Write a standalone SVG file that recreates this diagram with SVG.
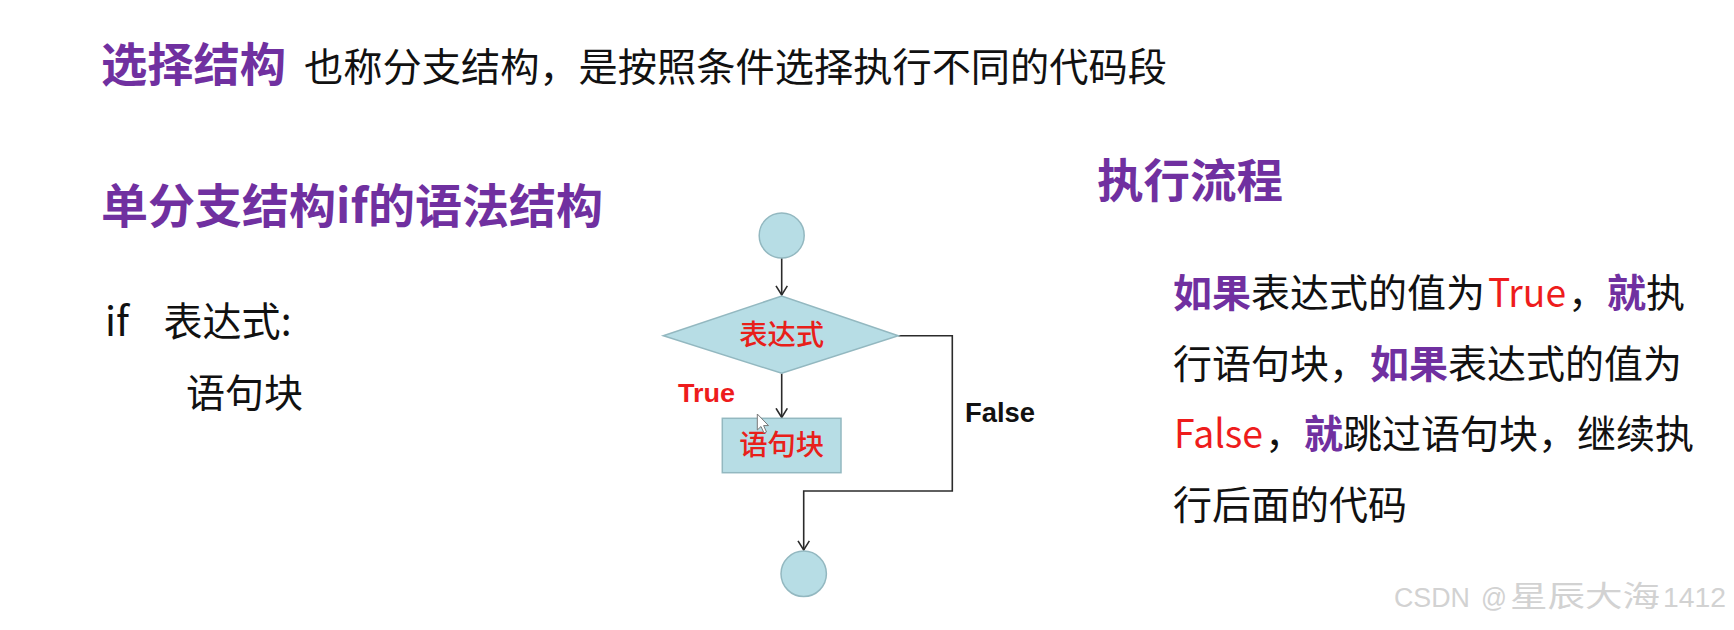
<svg xmlns="http://www.w3.org/2000/svg" width="1734" height="630" viewBox="0 0 1734 630">
<defs>
<style>
.hd{font-family:"Noto Sans CJK SC","Noto Sans",sans-serif;font-weight:700;fill:#7030a0;}
.tx{font-family:"Noto Sans CJK SC","Noto Sans",sans-serif;fill:#111;}
.pp{font-weight:700;fill:#7030a0;}
.rd{fill:#ee1c1c;}
.shape{fill:#b7dde5;stroke:#93b8c0;stroke-width:1.5;}
.lbl{font-family:"Noto Sans CJK SC",sans-serif;fill:#e8201a;font-size:28px;font-weight:500;}
.edge{fill:none;stroke:#2b2b2b;stroke-width:1.6;}
.el{font-family:"Liberation Sans",Arial,sans-serif;font-weight:700;}
</style>
<marker id="arr" markerUnits="userSpaceOnUse" markerWidth="14" markerHeight="14" refX="10" refY="6.5" orient="auto">
<path d="M0.8,0.8 L10,6.5 L0.8,12.2" fill="none" stroke="#2b2b2b" stroke-width="1.6"/>
</marker>
</defs>
<rect width="1734" height="630" fill="#ffffff"/>

<g id="title">
<text class="hd" x="101" y="81" font-size="46" textLength="185" lengthAdjust="spacingAndGlyphs">选择结构</text>
<text class="tx" x="304" y="81" font-size="39" textLength="863" lengthAdjust="spacingAndGlyphs">也称分支结构，是按照条件选择执行不同的代码段</text>
</g>

<g id="syntax">
<text class="hd" x="101" y="223" font-size="47" textLength="502" lengthAdjust="spacingAndGlyphs">单分支结构if的语法结构</text>
<text class="tx" x="105" y="336" font-size="40">if</text>
<text class="tx" x="163.5" y="336" font-size="39.5" textLength="128" lengthAdjust="spacingAndGlyphs">表达式:</text>
<text class="tx" x="186" y="407" font-size="39" textLength="117" lengthAdjust="spacingAndGlyphs">语句块</text>
</g>

<g id="flow-heading">
<text class="hd" x="1097" y="196.5" font-size="46" textLength="186" lengthAdjust="spacingAndGlyphs">执行流程</text>
</g>

<g id="explanation" class="tx" font-size="39">
<text y="307"><tspan x="1173" class="pp">如果</tspan><tspan x="1251">表达式的值为</tspan><tspan x="1488" class="rd" textLength="78" lengthAdjust="spacingAndGlyphs">True</tspan><tspan x="1568">，</tspan><tspan x="1607" class="pp">就</tspan><tspan x="1646">执</tspan></text>
<text y="377.5"><tspan x="1173">行语句块，</tspan><tspan x="1370" class="pp">如果</tspan><tspan x="1448">表达式的值为</tspan></text>
<text y="448"><tspan x="1174" class="rd" textLength="89" lengthAdjust="spacingAndGlyphs">False</tspan><tspan x="1265">，</tspan><tspan x="1304" class="pp">就</tspan><tspan x="1343">跳过语句块，继续执</tspan></text>
<text y="518.5"><tspan x="1173">行后面的代码</tspan></text>
</g>

<g id="connectors">
<line class="edge" x1="781.7" y1="258" x2="781.7" y2="295" marker-end="url(#arr)"/>
<line class="edge" x1="781.7" y1="373.3" x2="781.7" y2="417.5" marker-end="url(#arr)"/>
<polyline class="edge" points="898.3,335.7 952.3,335.7 952.3,491 803.7,491 803.7,550" marker-end="url(#arr)"/>
<text class="el" x="678" y="401.7" font-size="26" fill="#ee1c1c" textLength="57" lengthAdjust="spacingAndGlyphs">True</text>
<text class="el" x="965" y="421.7" font-size="27.5" fill="#111" textLength="70" lengthAdjust="spacingAndGlyphs">False</text>
</g>

<g id="start">
<circle class="shape" cx="781.7" cy="235.5" r="22.5"/>
</g>

<g id="condition">
<polygon class="shape" points="663.3,335.7 781.7,296 898.3,335.7 781.7,373.3"/>
<text class="lbl" x="781.7" y="344.7" text-anchor="middle" textLength="85" lengthAdjust="spacingAndGlyphs">表达式</text>
</g>

<g id="block">
<rect class="shape" x="722.3" y="418.3" width="118.7" height="54.4"/>
<text class="lbl" x="781.7" y="454.7" text-anchor="middle" textLength="85" lengthAdjust="spacingAndGlyphs">语句块</text>
</g>

<g id="end">
<circle class="shape" cx="803.7" cy="573.8" r="22.7"/>
</g>

<path d="M757.3,414 L757.3,430 L761,426.5 L764,433 L766.5,432 L763.6,425.6 L768.5,425.6 Z" fill="#ffffff" stroke="#777" stroke-width="1"/>

<g id="watermark" font-family="'Liberation Sans',Arial,'Noto Sans CJK SC',sans-serif" font-size="27" fill="#d2d2d2">
<text y="606.5"><tspan x="1394" textLength="76" lengthAdjust="spacingAndGlyphs">CSDN</tspan><tspan x="1481" textLength="26" lengthAdjust="spacingAndGlyphs">@</tspan><tspan x="1510" textLength="150" lengthAdjust="spacingAndGlyphs" font-family="'Noto Sans CJK SC',sans-serif" font-size="29">星辰大海</tspan><tspan x="1663" textLength="63" lengthAdjust="spacingAndGlyphs">1412</tspan></text>
</g>
</svg>
